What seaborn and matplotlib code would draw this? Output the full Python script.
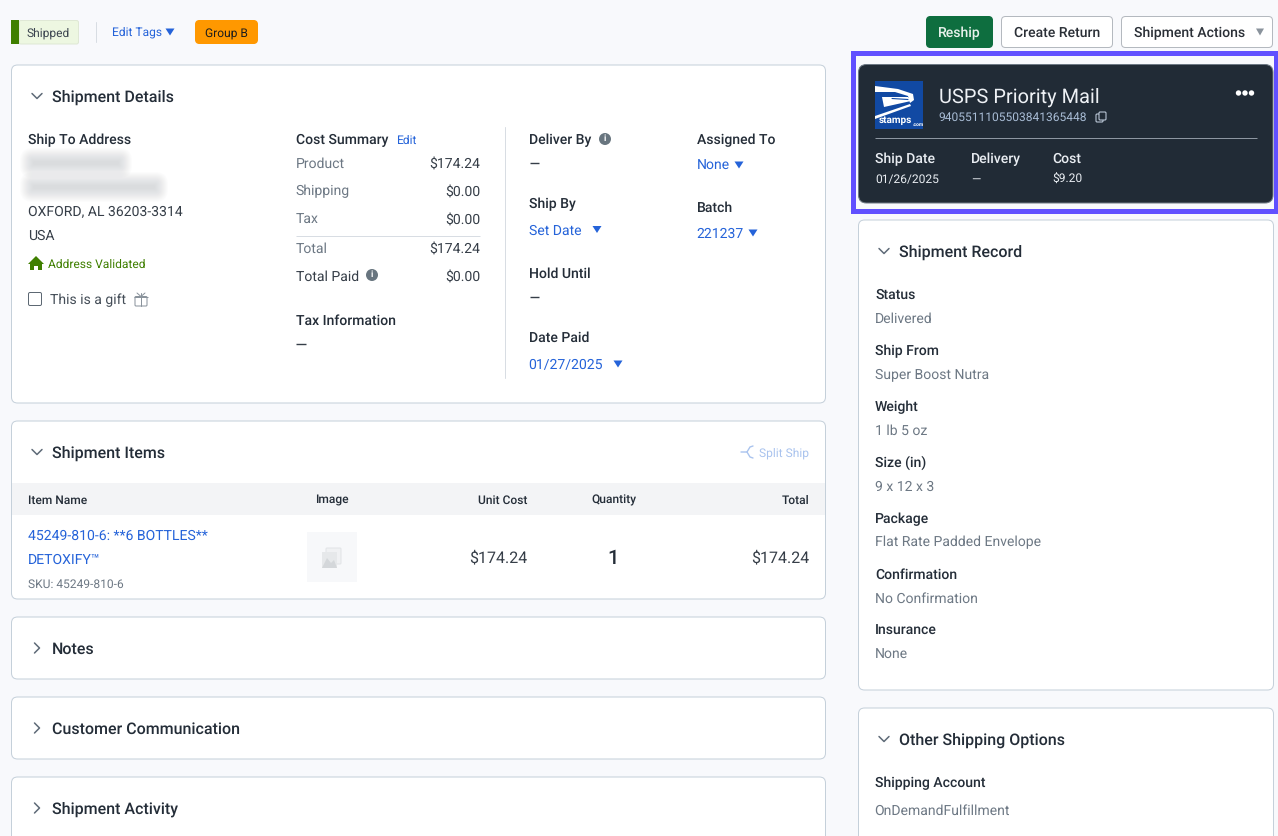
import matplotlib
matplotlib.use("Agg")
import matplotlib.pyplot as plt
from matplotlib.patches import FancyBboxPatch, Rectangle, Polygon, Circle
import seaborn as sns

# ---------- content ----------
status_label = "Shipped"
edit_tags = "Edit Tags"
group_tag = "Group B"
buttons = ["Reship", "Create Return", "Shipment Actions"]
carrier = "USPS Priority Mail"
tracking = "9405511105503841365448"
carrier_fields = ["Ship Date", "Delivery", "Cost"]
carrier_values = ["01/26/2025", "—", "$9.20"]
address_lines = ["OXFORD, AL 36203-3314", "USA"]
cost_labels = ["Product", "Shipping", "Tax", "Total"]
cost_values = ["$174.24", "$0.00", "$0.00", "$174.24"]
paid_label, paid_value = "Total Paid", "$0.00"
date_labels = ["Deliver By", "Ship By", "Hold Until", "Date Paid"]
date_values = ["—", "Set Date", "—", "01/27/2025"]
assign_labels = ["Assigned To", "Batch"]
assign_values = ["None", "221237"]
item_columns = ["Item Name", "Image", "Unit Cost", "Quantity", "Total"]
item_name = ["45249-810-6: **6 BOTTLES**", "DETOXIFY™"]
item_sku = "SKU: 45249-810-6"
item_cost, item_qty, item_total = "$174.24", "1", "$174.24"
collapsed_sections = ["Notes", "Customer Communication", "Shipment Activity"]
record_labels = ["Status", "Ship From", "Weight", "Size (in)", "Package", "Confirmation", "Insurance"]
record_values = ["Delivered", "Super Boost Nutra", "1 lb 5 oz", "9 x 12 x 3",
                 "Flat Rate Padded Envelope", "No Confirmation", "None"]

# ---------- colours ----------
BG = "#f8f9fc"
BORDER = "#c5d0da"
DARK = "#242d38"
GRAY = "#6d7884"
BLUE = "#2563d9"
GREEN = "#3f7f00"
NAVY = "#212b36"
LOGO = "#1149a3"

sns.set_theme(style="white")
plt.rcParams["font.family"] = ["Roboto", "DejaVu Sans"]
plt.rcParams["text.hinting"] = "no_hinting"
plt.rcParams["text.hinting_factor"] = 1

fig = plt.figure(figsize=(12.78, 8.36), dpi=100, facecolor=BG)
ax = fig.add_axes([0, 0, 1, 1])
ax.set_xlim(0, 1278)
ax.set_ylim(836, 0)
ax.axis("off")
sns.despine(ax=ax, left=True, bottom=True)

THIN = 0.72


def txt(x, y, s, px=14, color=DARK, weight="normal", ha="left", z=5):
    dy = 2.2 + (0.6 if weight == "medium" else 0.0)
    ax.text(x, y + dy, s, fontsize=px * 0.72, color=color, fontweight=weight,
            ha=ha, va="center", zorder=z)


def box(x0, y0, x1, y1, fc="white", ec=BORDER, r=6, lw=THIN, z=1):
    ax.add_patch(FancyBboxPatch((x0 + r, y0 + r), x1 - x0 - 2 * r, y1 - y0 - 2 * r,
                                boxstyle=f"round,pad={r},rounding_size={r}",
                                fc=fc, ec=ec, lw=lw, zorder=z))


def rect(x0, y0, x1, y1, fc, z=2, ec="none", lw=0):
    ax.add_patch(Rectangle((x0, y0), x1 - x0, y1 - y0, fc=fc, ec=ec, lw=lw, zorder=z))


def hline(x0, x1, y, color="#d8dde3", lw=THIN, z=3):
    ax.plot([x0, x1], [y, y], color=color, lw=lw, zorder=z, solid_capstyle="butt")


def tri(x, y, color=BLUE, w=4.5, h=3.5):
    ax.add_patch(Polygon([(x - w, y - h), (x + w, y - h), (x, y + h)], fc=color, ec="none", zorder=5))


def chev_down(x, y, color="#5f6b78"):
    ax.plot([x - 5, x, x + 5], [y - 2.5, y + 2.5, y - 2.5], color=color, lw=1.1, zorder=5)


def chev_right(x, y, color="#5f6b78"):
    ax.plot([x - 2.5, x + 2.5, x - 2.5], [y - 5, y, y + 5], color=color, lw=1.1, zorder=5)


def info(x, y):
    ax.add_patch(Circle((x, y), 6, fc="#68757f", ec="none", zorder=5))
    txt(x, y - 2.2, "i", 9, "white", "bold", "center", z=6)


# ---------- top bar ----------
box(19, 20.5, 78.5, 44, fc="#edf7e1", ec="#dfe8d5", r=2)
rect(11, 20, 19, 44, GREEN)
txt(27, 31.5, status_label, 12, "#3c4550")
ax.plot([95.5, 95.5], [22, 42], color="#d8dde3", lw=THIN, zorder=3)
txt(112, 30.5, edit_tags, 12, BLUE)
tri(170, 32, BLUE)
box(195.5, 20.5, 257.5, 43.5, fc="#ff9800", ec="#ff9800", r=4)
txt(226.5, 32, group_tag, 12, "#1d1d1d", ha="center")

box(926.5, 16.5, 992.5, 47.5, fc="#0e6e3f", ec="#0e6e3f", r=4)
txt(959.5, 30.5, buttons[0], 14, "#e8f2ec", "medium", "center")
box(1001.5, 16.5, 1112.5, 47.5, fc="white", ec="#b4b9bf", r=4)
txt(1056.8, 30.5, buttons[1], 14, "#2a2f36", "medium", "center")
box(1121.5, 16.5, 1272.5, 47.5, fc="white", ec="#b4b9bf", r=4)
txt(1134, 30.5, buttons[2], 14, "#2a2f36", "medium")
tri(1260, 32, "#8a939c", 4, 3.5)

# ---------- highlighted carrier card ----------
rect(853, 53, 1275.5, 210.5, "none", z=2, ec="#6150ff", lw=3.6)
box(858.5, 64.5, 1273, 203, fc=NAVY, ec="#6d7884", r=8, z=3)
rect(875, 81, 923, 129, LOGO, z=4)
ax.add_patch(Polygon([(875, 86), (898, 89), (913, 94), (914, 100), (910, 103), (908, 96),
                      (895, 92), (875, 92)], fc="white", ec="none", zorder=5))
ax.add_patch(Polygon([(882, 97), (908, 97), (911, 101), (884, 107)], fc="white", ec="none", zorder=6))
ax.plot([892, 908], [98.5, 99.5], color=LOGO, lw=0.8, zorder=7)
ax.add_patch(Polygon([(875, 116), (910, 104), (911, 106), (875, 119)], fc="white", ec="none", zorder=6))
txt(879, 118, "stamps", 10, "white", "bold", z=8)
txt(913, 122.5, ".com", 5.5, "white", "bold", z=8)
txt(939, 95, carrier, 20, "#eef1f5", z=6)
txt(938.7, 115.5, tracking, 12, "#a9bdd6", z=6)
box(1096, 114, 1103, 122, fc=NAVY, ec="#c7d4e4", r=1, z=6)
box(1099, 112, 1106, 120, fc=NAVY, ec="#c7d4e4", r=1, z=7)
for cx in (1238.5, 1245, 1251.5):
    ax.add_patch(Circle((cx, 93), 2.7, fc="white", ec="none", zorder=6))
hline(875, 1257, 137.5, "#8d96a1", THIN, z=5)
for x, lab, val in zip((875, 971, 1052.7), carrier_fields, carrier_values):
    txt(x, 156.5, lab, 14, "#e9edf2", "medium", z=6)
    txt(x, 177.5, val, 12, "#e9edf2", z=6)

# ---------- shipment details ----------
box(11.5, 65, 825.5, 403)
chev_down(37, 96)
txt(52, 94.5, "Shipment Details", 16, DARK, "medium")
txt(28, 137.5, "Ship To Address", 14, DARK, "medium")
for (x0, x1, y0, y1) in ((30, 122, 158, 168), (30, 158, 182, 192)):
    for grow in range(10, -4, -1):
        box(x0 - grow, y0 - grow, x1 + grow, y1 + grow, fc=(.68, .70, .72, .035), ec="none",
            r=max(grow + 3, 2), lw=0, z=2)
for y, line in zip((209.5, 233.5), address_lines):
    txt(28, y, line, 14, "#363e48")
ax.add_patch(Polygon([(36, 256), (44, 264), (42, 264), (42, 270), (38, 270), (38, 266), (34, 266),
                      (34, 270), (30, 270), (30, 264), (28, 264)], fc=GREEN, ec="none", zorder=5))
txt(48, 262.5, "Address Validated", 12, GREEN)
box(28.5, 292.5, 41.5, 305.5, fc="white", ec="#5d6873", r=1.5, z=3)
txt(50, 298, "This is a gift", 14, "#454e58")
box(135, 296.5, 147, 306, "none", ec="#8a939c", r=1, z=4)
ax.plot([141, 141], [293, 306], color="#8a939c", lw=THIN, zorder=4)
hline(134, 148, 296.5, "#8a939c", THIN, z=4)
ax.plot([137, 141, 145], [293, 296.5, 293], color="#8a939c", lw=THIN, zorder=4)

txt(295.7, 137.5, "Cost Summary", 14, DARK, "medium")
txt(396, 138.5, "Edit", 12, BLUE)
for y, lab, val in zip((161.5, 189.5, 217.5, 246.5), cost_labels, cost_values):
    txt(295.7, y, lab, 14, GRAY)
    txt(480, y, val, 14, "#363e48", ha="right")
hline(296, 480, 235.5)
txt(295.7, 274.5, paid_label, 14, "#363e48")
info(372, 275)
txt(480, 274.5, paid_value, 14, "#363e48", ha="right")
txt(295.7, 318, "Tax Information", 14, DARK, "medium")
hline(296, 306, 343.5, "#363e48", 1.0)

ax.plot([504.5, 504.5], [127, 378], color="#d8dde3", lw=THIN, zorder=3)
for y, lab in zip((137.5, 201.5, 271, 335), date_labels):
    txt(529, y, lab, 14, DARK, "medium")
info(605, 139)
hline(529.5, 539, 162.5, "#363e48", 1.0)
hline(529.5, 539, 296.5, "#363e48", 1.0)
txt(529, 228.5, date_values[1], 14, BLUE)
tri(597, 229.5)
txt(528.7, 362.5, date_values[3], 14, BLUE)
tri(618, 364)
txt(697, 137.5, assign_labels[0], 14, DARK, "medium")
txt(697, 163.5, assign_values[0], 14, BLUE)
tri(739, 165)
txt(697, 205, assign_labels[1], 14, DARK, "medium")
txt(696.7, 231.5, assign_values[1], 14, BLUE)
tri(753, 233)

# ---------- shipment items ----------
box(11.5, 421, 825.5, 599)
chev_down(37, 452)
txt(52, 450.5, "Shipment Items", 16, DARK, "medium")
ax.plot([741, 747, 750, 753], [452, 452, 447, 446], color="#a9c3ee", lw=1.0, zorder=5)
ax.plot([747, 750, 753], [452, 457, 458], color="#a9c3ee", lw=1.0, zorder=5)
txt(809, 451, "Split Ship", 12, "#a9c3ee", ha="right")
rect(12, 483, 825, 515, "#f3f4f6")
txt(28, 497.5, item_columns[0], 12, DARK, "medium")
txt(331.7, 497.5, item_columns[1], 12, DARK, "medium", "center")
txt(527, 497.5, item_columns[2], 12, DARK, "medium", "right")
txt(613.5, 497.5, item_columns[3], 12, DARK, "medium", "center")
txt(809, 497.5, item_columns[4], 12, DARK, "medium", "right")
txt(28, 533.5, item_name[0], 14, BLUE)
txt(28, 557.5, item_name[1], 14, BLUE)
txt(28, 582, item_sku, 12, GRAY)
rect(307, 532, 357, 582, "#f7f8fa")
box(326, 548, 341, 564, fc="#f0f1f3", ec="#e2e4e7", r=1, z=3)
rect(322, 552, 337, 568, "#e6e8ea", z=4)
ax.add_patch(Polygon([(322, 568), (327, 558), (331, 563), (334, 560), (337, 568)],
                     fc="#d4d7da", ec="none", zorder=5))
txt(527, 555.5, item_cost, 16, "#363e48", ha="right")
txt(613.5, 556, item_qty, 20, DARK, "medium", "center")
txt(809, 555.5, item_total, 16, "#363e48", ha="right")

# ---------- collapsed cards ----------
for (y0, y1, label) in zip((617, 697, 777), (679, 759, 860), collapsed_sections):
    box(11.5, y0, 825.5, y1)
    chev_right(37, y0 + 31)
    txt(52, y0 + 29.5, label, 16, DARK, "medium")

# ---------- shipment record ----------
box(858.5, 220, 1273.5, 690)
chev_down(884, 251)
txt(899, 249.5, "Shipment Record", 16, DARK, "medium")
for i, (lab, val) in enumerate(zip(record_labels, record_values)):
    txt(875, 292.2 + 56 * i, lab, 14, DARK, "medium")
    txt(875, 316.5 + 56 * i, val, 14, GRAY)

# ---------- other shipping options ----------
box(858.5, 708, 1273.5, 870)
chev_down(884, 739)
txt(899, 737.5, "Other Shipping Options", 16, DARK, "medium")
txt(875, 780.5, "Shipping Account", 14, DARK, "medium")
txt(874.6, 808.5, "OnDemandFulfillment", 14, GRAY)

fig.savefig("out.png", dpi=100, facecolor=BG)
